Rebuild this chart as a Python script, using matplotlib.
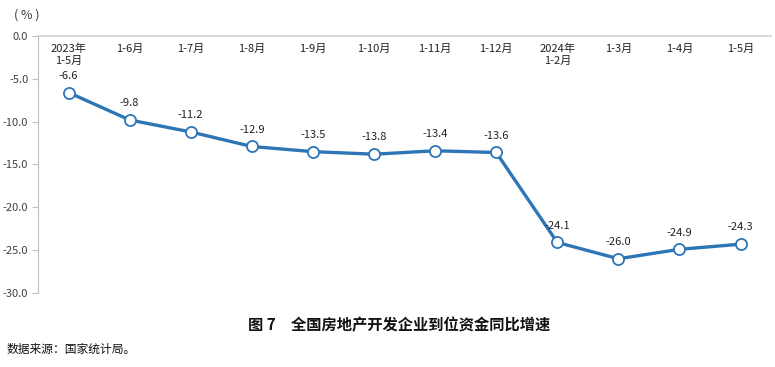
import matplotlib
matplotlib.use('Agg')
import matplotlib.pyplot as plt

plt.rcParams['font.family'] = ['Noto Sans CJK SC', 'DejaVu Sans']

# data
categories = ['2023年\n1-5月', '1-6月', '1-7月', '1-8月', '1-9月', '1-10月',
              '1-11月', '1-12月', '2024年\n1-2月', '1-3月', '1-4月', '1-5月']
values = [-6.6, -9.8, -11.2, -12.9, -13.5, -13.8, -13.4, -13.6, -24.1, -26.0, -24.9, -24.3]
yticks = [0, -5, -10, -15, -20, -25, -30]

LINE = '#2E75B6'
TEXT = '#404040'

fig = plt.figure(figsize=(7.75, 3.67), dpi=100)
ax = fig.add_axes([0.049, 0.2016, 0.946, 0.7004])

x = list(range(len(values)))
ax.plot(x, values, color=LINE, lw=2.4, marker='o', markersize=8,
        markerfacecolor='white', markeredgecolor=LINE, markeredgewidth=1.3,
        zorder=3, clip_on=False)

for xi, v in zip(x, values):
    ax.annotate(f'{v:.1f}', (xi, v), xytext=(0, 8.5), textcoords='offset points',
                ha='center', va='bottom', fontsize=8, color='#222222')

ax.set_xlim(-0.5, len(values) - 0.5)
ax.set_ylim(-30, 0)
ax.set_yticks(yticks)
ax.set_yticklabels([f'{t:.1f}' for t in yticks], fontsize=8, color=TEXT)
ax.tick_params(axis='y', length=4, width=0.8, color='#bfbfbf', pad=3)
ax.set_xticks([])

for s in ('right', 'bottom'):
    ax.spines[s].set_visible(False)
ax.spines['top'].set_color('#d0d0d0')
ax.spines['top'].set_linewidth(1.2)
ax.spines['left'].set_color('#bfbfbf')
ax.spines['left'].set_linewidth(0.8)

# category labels sit just under the zero line
for xi, c in zip(x, categories):
    ax.text(xi, -0.9, c, ha='center', va='top', fontsize=8, color='#222222',
            linespacing=1.2)

fig.text(0.018, 0.958, '( % )', ha='left', va='center', fontsize=9, color=TEXT)
fig.text(0.515, 0.113, '图 7　全国房地产开发企业到位资金同比增速', ha='center',
         va='center', fontsize=11, fontweight='bold', color='#111111')
fig.text(0.008, 0.048, '数据来源：国家统计局。', ha='left', va='center',
         fontsize=8.5, color='#111111')

fig.savefig('out.png', dpi=100)
